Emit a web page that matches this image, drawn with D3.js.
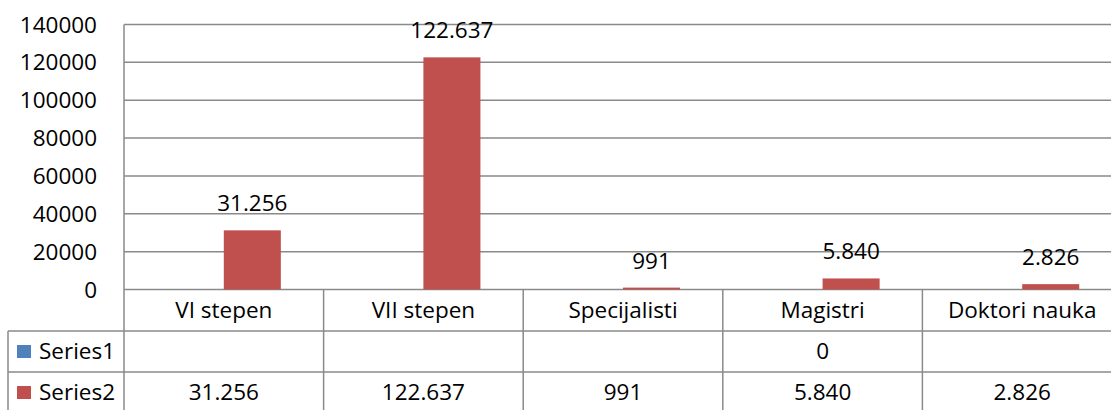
<!DOCTYPE html>
<html>
<head>
<meta charset="utf-8">
<script src="https://cdn.jsdelivr.net/npm/d3@7"></script>
<style>
  body { margin: 0; background: #fff; }
  text { font-family: "Open Sans", sans-serif; fill: #000; }
</style>
</head>
<body>
<div class="panel"></div>
<script>
const categories = ["VI stepen", "VII stepen", "Specijalisti", "Magistri", "Doktori nauka"];
const seriesNames = ["Series1", "Series2"];
const series1 = [null, null, null, 0, null];
const series2 = [31256, 122637, 991, 5840, 2826];
const yTicks = [0, 20000, 40000, 60000, 80000, 100000, 120000, 140000];
const seriesColours = ["#4f81bd", "#c0504d"];

const width = 1111;
const height = 410;
const plotLeft = 124, plotTop = 24.5, plotBottom = 289.5;
const colWidth = 199.6;
const gridColour = "#8a8a8a";
const fontSize = 22.5;

const svg = d3.select(".panel")
    .append("svg")
    .attr("width", width)
    .attr("height", height)
    .attr("viewBox", `0 0 ${width} ${height}`);

const x = d3.scaleBand()
            .domain(categories)
            .range([plotLeft, plotLeft + colWidth * categories.length])
            .padding(0);

const inner = d3.scaleBand()
                .domain(seriesNames)
                .range([0, x.bandwidth()])
                .paddingInner(0)
                .paddingOuter(0.75);

const y = d3.scaleLinear()
            .domain([0, 140000])
            .range([plotBottom, plotTop]);

// gridlines
svg.append("g")
   .selectAll("line")
   .data(yTicks)
   .enter()
   .append("line")
   .attr("x1", plotLeft)
   .attr("x2", width)
   .attr("y1", d => y(d))
   .attr("y2", d => y(d))
   .attr("stroke", gridColour)
   .attr("stroke-width", 1.5);

// y axis line
svg.append("line")
   .attr("x1", plotLeft).attr("x2", plotLeft)
   .attr("y1", plotTop).attr("y2", height)
   .attr("stroke", gridColour)
   .attr("stroke-width", 1.5);

// tick labels
svg.append("g")
   .selectAll("text")
   .data(yTicks)
   .enter()
   .append("text")
   .attr("x", 97)
   .attr("y", d => y(d) + 8)
   .attr("text-anchor", "end")
   .attr("font-size", fontSize)
   .text(d => d);

// bars
const rows = [series1, series2];
seriesNames.forEach((name, s) => {
  const g = svg.append("g");
  const vals = categories.map((c, i) => ({ cat: c, value: rows[s][i] }))
                         .filter(d => d.value !== null && d.value > 0);
  g.selectAll("rect")
   .data(vals)
   .enter()
   .append("rect")
   .attr("x", d => x(d.cat) + inner(name))
   .attr("y", d => y(d.value))
   .attr("width", inner.bandwidth())
   .attr("height", d => y(0) - y(d.value))
   .attr("fill", seriesColours[s]);
});

// data labels for series2
const fmt = v => d3.format(",")(v).replace(/,/g, ".");
svg.append("g")
   .selectAll("text")
   .data(categories.map((c, i) => ({ cat: c, value: series2[i] })))
   .enter()
   .append("text")
   .attr("x", d => x(d.cat) + inner("Series2") + inner.bandwidth() / 2)
   .attr("y", d => y(d.value) - 19)
   .attr("text-anchor", "middle")
   .attr("font-size", fontSize)
   .text(d => fmt(d.value));

// data table
const rowTop = [plotBottom, 331, 372];
const rowBottom = [331, 372, 413];
const tableLeft = 8;

const table = svg.append("g");

// horizontal lines
[331, 372].forEach(yy => {
  table.append("line")
       .attr("x1", tableLeft).attr("x2", width)
       .attr("y1", yy).attr("y2", yy)
       .attr("stroke", gridColour).attr("stroke-width", 1.5);
});
table.append("line")
     .attr("x1", tableLeft).attr("x2", tableLeft)
     .attr("y1", 331).attr("y2", height)
     .attr("stroke", gridColour).attr("stroke-width", 1.5);

// vertical column lines
table.selectAll(".col")
     .data(categories.slice(1))
     .enter()
     .append("line")
     .attr("x1", d => x(d)).attr("x2", d => x(d))
     .attr("y1", plotBottom).attr("y2", height)
     .attr("stroke", gridColour).attr("stroke-width", 1.5);

// category labels
table.selectAll(".cat")
     .data(categories)
     .enter()
     .append("text")
     .attr("x", d => x(d) + x.bandwidth() / 2)
     .attr("y", (rowTop[0] + rowBottom[0]) / 2 + 7.5)
     .attr("text-anchor", "middle")
     .attr("font-size", fontSize)
     .text(d => d);

// series rows
rows.forEach((vals, s) => {
  const cy = (rowTop[s + 1] + rowBottom[s + 1]) / 2;
  table.append("rect")
       .attr("x", 17).attr("y", cy - 6.5)
       .attr("width", 14).attr("height", 13)
       .attr("fill", seriesColours[s]);
  table.append("text")
       .attr("x", 39)
       .attr("y", cy + 7.5)
       .attr("font-size", fontSize)
       .text(seriesNames[s]);
  table.selectAll(".v" + s)
       .data(categories.map((c, i) => ({ cat: c, value: vals[i] })).filter(d => d.value !== null))
       .enter()
       .append("text")
       .attr("x", d => x(d.cat) + x.bandwidth() / 2)
       .attr("y", cy + 7.5)
       .attr("text-anchor", "middle")
       .attr("font-size", fontSize)
       .text(d => fmt(d.value));
});
</script>
</body>
</html>
